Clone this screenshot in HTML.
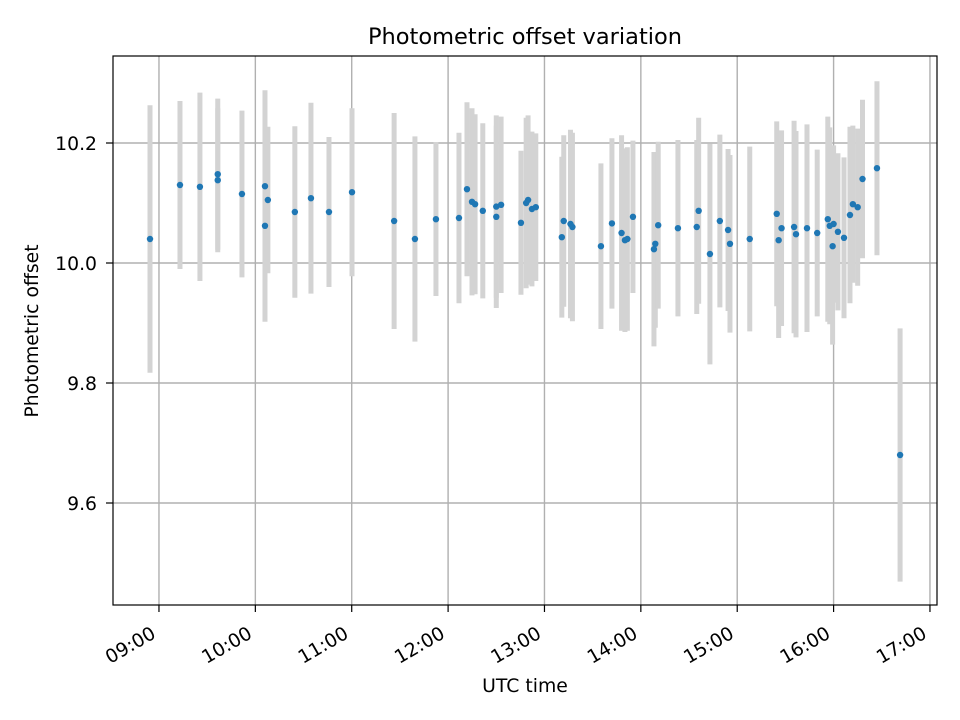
<!DOCTYPE html>
<html><head><meta charset="utf-8"><style>
html,body{margin:0;padding:0;background:#fff;}
svg{display:block;font-family:"DejaVu Sans","Liberation Sans",sans-serif;}
</style></head><body>
<svg id="chart" width="960" height="720" viewBox="0 0 960 720">
<rect width="960" height="720" fill="#fff"/>
<g id="grid"></g>
<g id="errs"></g>
<g id="pts"></g>
<rect x="113" y="56" width="824" height="549" fill="none" stroke="#000" stroke-width="1.2"/>
<g id="xticks"></g>
<g id="yticks"></g>
<text x="525" y="44" font-size="22.5" text-anchor="middle">Photometric offset variation</text>
<text x="525" y="692" font-size="18.8" text-anchor="middle">UTC time</text>
<text x="0" y="0" font-size="18.8" text-anchor="middle" transform="translate(38,331) rotate(-90)">Photometric offset</text>
</svg>
<script>
const times=[8.907,9.218,9.425,9.61,9.61,9.861,10.10,10.10,10.13,10.41,10.577,10.764,11.003,11.44,11.656,11.874,12.113,12.196,12.248,12.28,12.36,12.5,12.5,12.55,12.756,12.81,12.83,12.87,12.91,13.18,13.2,13.27,13.29,13.586,13.70,13.80,13.835,13.86,13.918,14.136,14.15,14.18,14.385,14.58,14.60,14.717,14.82,14.905,14.925,15.13,15.41,15.43,15.46,15.59,15.61,15.724,15.83,15.94,15.96,15.99,16.0,16.045,16.108,16.17,16.20,16.25,16.30,16.45,16.69];
const values=[10.040,10.130,10.127,10.148,10.138,10.115,10.062,10.128,10.105,10.085,10.108,10.085,10.118,10.070,10.040,10.073,10.075,10.123,10.102,10.098,10.087,10.094,10.077,10.097,10.067,10.100,10.105,10.090,10.093,10.043,10.070,10.065,10.060,10.028,10.066,10.050,10.038,10.040,10.077,10.023,10.032,10.063,10.058,10.060,10.087,10.015,10.070,10.055,10.032,10.040,10.082,10.038,10.058,10.060,10.048,10.058,10.050,10.073,10.062,10.028,10.065,10.052,10.042,10.080,10.098,10.093,10.140,10.158,9.680];
const errors=[0.223,0.140,0.157,0.126,0.120,0.139,0.160,0.160,0.122,0.143,0.159,0.125,0.140,0.180,0.171,0.128,0.142,0.145,0.156,0.150,0.146,0.152,0.152,0.147,0.120,0.142,0.141,0.129,0.123,0.134,0.143,0.157,0.157,0.138,0.142,0.163,0.153,0.153,0.127,0.162,0.140,0.139,0.147,0.145,0.155,0.184,0.144,0.135,0.148,0.154,0.154,0.163,0.163,0.177,0.172,0.173,0.139,0.171,0.164,0.164,0.131,0.131,0.134,0.147,0.131,0.131,0.132,0.145,0.211];
const xTickHours=[9,10,11,12,13,14,15,16,17];
const xTickLabels=["09:00","10:00","11:00","12:00","13:00","14:00","15:00","16:00","17:00"];
const yTickValues=[9.6,9.8,10.0,10.2];
const yTickLabels=["9.6","9.8","10.0","10.2"];
const X0=113,X1=937,Y0=56,Y1=605;
const xMin=8.523,xMax=17.073,yMin=9.43,yMax=10.345;
function xs(h){return X0+(h-xMin)/(xMax-xMin)*(X1-X0);}
function ys(v){return Y1-(v-yMin)/(yMax-yMin)*(Y1-Y0);}
const NS="http://www.w3.org/2000/svg";
function mk(t,a,p){const e=document.createElementNS(NS,t);for(const k in a)e.setAttribute(k,a[k]);p.appendChild(e);return e;}
const grid=document.getElementById('grid'),xt=document.getElementById('xticks'),yt=document.getElementById('yticks');
xTickHours.forEach((h,i)=>{const x=xs(h);
 const g=mk('line',{x1:x,x2:x,y1:Y0,y2:Y1,stroke:'#b0b0b0','stroke-width':1.4},grid);
 
 
 const t=mk('line',{x1:x,x2:x,y1:Y1,y2:Y1+7,stroke:'#000','stroke-width':1.2},xt);
 
 
 const l=mk('text',{x:0,y:0,'font-size':18.8,'text-anchor':'end',transform:`translate(${x-2},${Y1+32}) rotate(-30)`},xt);
 l.textContent=xTickLabels[i];
 
 
});
yTickValues.forEach((v,i)=>{const y=ys(v);
 const g=mk('line',{x1:X0,x2:X1,y1:y,y2:y,stroke:'#b0b0b0','stroke-width':1.4},grid);
 
 
 const t=mk('line',{x1:X0-7,x2:X0,y1:y,y2:y,stroke:'#000','stroke-width':1.2},yt);
 
 
 const l=mk('text',{x:X0-16,y:y+7,'font-size':18.8,'text-anchor':'end'},yt);
 l.textContent=yTickLabels[i];
 
 
});
const eg=document.getElementById('errs'),pg=document.getElementById('pts');
times.forEach((h,i)=>{const x=xs(h);
 const e=mk('line',{x1:x,x2:x,y1:ys(values[i]+errors[i]),y2:ys(values[i]-errors[i]),stroke:'#d3d3d3','stroke-width':5},eg);
 
 
});
times.forEach((h,i)=>{
 const c=mk('circle',{cx:xs(h),cy:ys(values[i]),r:3.2,fill:'#1f77b4'},pg);
 
 
});
</script>
</body></html>
